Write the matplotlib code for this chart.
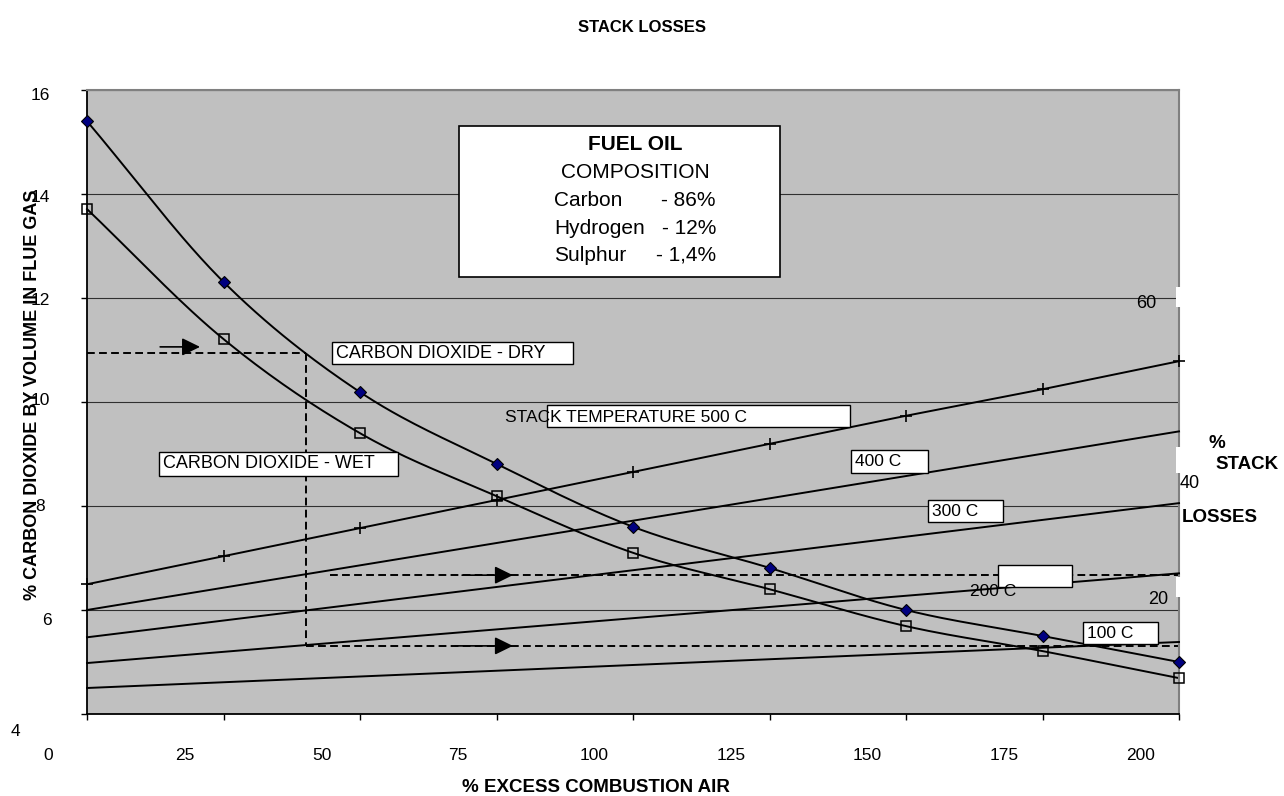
import numpy as np
import matplotlib.pyplot as plt
from matplotlib.patches import Rectangle

plt.rcParams['font.family'] = ['Liberation Sans', 'DejaVu Sans']

# dados
excess_air = [0, 25, 50, 75, 100, 125, 150, 175, 200]
co2_dry = [15.40, 12.31, 10.19, 8.81, 7.60, 6.81, 6.00, 5.50, 5.00]
co2_wet = [13.71, 11.21, 9.40, 8.19, 7.10, 6.40, 5.69, 5.21, 4.69]

# perdas na chamine (eixo secundario)
loss_500 = [23.3, 26.9, 30.5, 34.1, 37.7, 41.3, 44.9, 48.3, 51.9]
ends_x = [0, 200]
loss_400 = [20.0, 42.9]
loss_300 = [16.5, 33.7]
loss_200 = [13.2, 24.7]
loss_100 = [10.0, 15.9]

x_ticks = [0, 25, 50, 75, 100, 125, 150, 175, 200]
y_ticks = [4, 6, 8, 10, 12, 14, 16]

# linhas de leitura (tracejado) e setas
guide_top_x, guide_top_y = [0, 40.2], [10.94, 10.94]
guide_vert_x, guide_vert_y = [40.2, 40.2], [10.94, 5.31]
guide_low_x, guide_low_y = [40.2, 200], [5.31, 5.31]
guide_mid_x, guide_mid_y = [44.5, 200], [6.67, 6.67]
arrows = [((13.4, 11.06), (20.7, 11.06)),
          ((68.7, 6.67), (78.0, 6.67)),
          ((67.4, 5.31), (78.0, 5.31))]

W, H = 1284, 796


def smooth(x, y, steps=30):
    # curva suavizada estilo Excel (Catmull-Rom)
    x = np.asarray(x, float)
    y = np.asarray(y, float)
    px = np.concatenate([[2 * x[0] - x[1]], x, [2 * x[-1] - x[-2]]])
    py = np.concatenate([[2 * y[0] - y[1]], y, [2 * y[-1] - y[-2]]])
    t = np.linspace(0, 1, steps, endpoint=False)
    ox, oy = [], []
    for i in range(1, len(px) - 2):
        for p, o in ((px, ox), (py, oy)):
            p0, p1, p2, p3 = p[i - 1], p[i], p[i + 1], p[i + 2]
            o.extend(0.5 * (2 * p1 + (-p0 + p2) * t
                            + (2 * p0 - 5 * p1 + 4 * p2 - p3) * t ** 2
                            + (-p0 + 3 * p1 - 3 * p2 + p3) * t ** 3))
    ox.append(x[-1])
    oy.append(y[-1])
    return np.array(ox), np.array(oy)


fig = plt.figure(figsize=(W / 100, H / 100), dpi=100)
ax = fig.add_axes([87 / W, 1 - 714 / H, (1179 - 87) / W, (714 - 90) / H])
ax.set_facecolor('#c0c0c0')
ax.set_xlim(0, 200)
ax.set_ylim(4, 16)
ax.set_xticks(x_ticks)
ax.set_yticks(y_ticks)
ax.tick_params(labelleft=False, labelbottom=False, direction='out',
               length=4.5, width=1.0, color='black')
ax.grid(axis='y', color='#303030', lw=0.8)
ax.set_axisbelow(True)
for s in ('left', 'bottom'):
    ax.spines[s].set_color('black')
    ax.spines[s].set_linewidth(1.3)
for s in ('top', 'right'):
    ax.spines[s].set_color('#808080')
    ax.spines[s].set_linewidth(1.5)

# rotulos dos eixos (deslocados como no original)
for v in x_ticks:
    ax.annotate(str(v), xy=(v, 0), xycoords=('data', 'axes fraction'),
                xytext=(-38.5 * 0.72, -41 * 0.72), textcoords='offset points',
                ha='center', va='center', fontsize=12.5)
ylab_dx = [-72, -40, -47, -47, -47, -47, -47]
ylab_dy = [18, 10, 0, -2, 2, 3, 5]
for v, dx, dy in zip(y_ticks, ylab_dx, ylab_dy):
    ax.annotate(str(v), xy=(0, v), xycoords=('axes fraction', 'data'),
                xytext=(dx * 0.72, -dy * 0.72), textcoords='offset points',
                ha='center', va='center', fontsize=12.5)

# curvas de CO2
sx, sy = smooth(excess_air, co2_dry)
ax.plot(sx, sy, color='black', lw=1.4, clip_on=False)
ax.plot(excess_air, co2_dry, ls='none', marker='D', ms=6.5, mfc='#000080',
        mec='black', mew=0.8, clip_on=False, zorder=4)
sx, sy = smooth(excess_air, co2_wet)
ax.plot(sx, sy, color='black', lw=1.4, clip_on=False)
ax.plot(excess_air, co2_wet, ls='none', marker='s', ms=7.5, mfc='none',
        mec='black', mew=1.1, clip_on=False, zorder=4)

# tracejados e setas
dash = (0, (4, 2.2))
for gx, gy in ((guide_top_x, guide_top_y), (guide_vert_x, guide_vert_y),
               (guide_low_x, guide_low_y), (guide_mid_x, guide_mid_y)):
    ax.plot(gx, gy, color='black', lw=1.4, ls=dash)
for start, end in arrows:
    ax.annotate('', xy=end, xytext=start,
                arrowprops=dict(arrowstyle='-|>,head_length=0.55,head_width=0.27',
                                color='black', lw=1.2, shrinkA=0, shrinkB=0,
                                mutation_scale=20))

# perdas na chamine
ax2 = ax.twinx()
ax2.set_ylim(6.667, 86.667)
ax2.set_yticks([])
for s in ax2.spines.values():
    s.set_visible(False)
ax2.plot(excess_air, loss_500, color='black', lw=1.4, marker='+', ms=9,
         mew=1.2, clip_on=False)
for vals in (loss_400, loss_300, loss_200, loss_100):
    ax2.plot(ends_x, vals, color='black', lw=1.4, clip_on=False)


def box(x0, y0, x1, y1, lw=1.0, ec='black'):
    fig.add_artist(Rectangle((x0 / W, 1 - y1 / H), (x1 - x0) / W, (y1 - y0) / H,
                             transform=fig.transFigure, fc='white', ec=ec,
                             lw=lw, zorder=5))


def label(x, y, s, **kw):
    kw.setdefault('va', 'center')
    kw.setdefault('fontsize', 12.5)
    fig.text(x / W, 1 - y / H, s, zorder=6, **kw)


# caixa do combustivel
box(459, 126, 780, 277, lw=1.2)
label(635, 145, 'FUEL OIL', ha='center', fontsize=15, fontweight='bold')
label(635, 172, 'COMPOSITION', ha='center', fontsize=15)
for yy, left, right in ((200, 'Carbon', '- 86%'), (228, 'Hydrogen', '- 12%'),
                        (255, 'Sulphur', '- 1,4%')):
    label(554, yy, left, ha='left', fontsize=15)
    label(716, yy, right, ha='right', fontsize=15)

box(332, 342, 573, 364)
label(336, 353, 'CARBON DIOXIDE - DRY', ha='left', fontsize=13)
box(159, 452, 398, 476)
label(163, 464, 'CARBON DIOXIDE - WET', ha='left', fontsize=13)
box(547, 405, 850, 427)
label(505, 418, 'STACK TEMPERATURE 500 C', ha='left')
box(851, 450, 928, 473)
label(855, 462, '400 C', ha='left')
box(928, 500, 1003, 522)
label(932, 511, '300 C', ha='left')
box(998, 565, 1072, 587)
label(970, 592, '200 C', ha='left')
box(1083, 622, 1158, 644)
label(1087, 633, '100 C', ha='left')

# eixo das perdas (lado direito)
for y0, y1 in ((287, 307), (447, 473), (577, 597)):
    box(1176, y0, 1183, y1, ec='none')
label(1146, 303, '60', ha='center', fontsize=13)
label(1190, 484, '40', ha='center', fontsize=13)
label(1158, 600, '20', ha='center', fontsize=13)
label(1217, 443, '%', ha='center', fontsize=13.5, fontweight='bold')
label(1215, 465, 'STACK', ha='left', fontsize=13.5, fontweight='bold')
label(1182, 517, 'LOSSES', ha='left', fontsize=13.5, fontweight='bold')

# titulos
label(642, 28, 'STACK LOSSES', ha='center', fontsize=12, fontweight='bold')
label(596, 788, '% EXCESS COMBUSTION AIR', ha='center', fontsize=13.5,
      fontweight='bold')
label(33, 395, '% CARBON DIOXIDE BY VOLUME IN FLUE GAS', ha='center',
      rotation=90, fontsize=13, fontweight='bold')

fig.savefig('out.png', dpi=100)
